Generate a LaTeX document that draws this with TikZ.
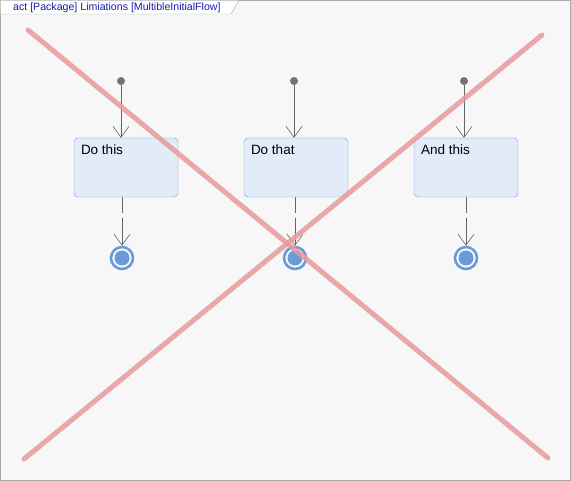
\documentclass[tikz,border=0pt]{standalone}
\usepackage{fontspec}
\setmainfont{Liberation Sans}
\usepackage{xcolor}
\usetikzlibrary{arrows.meta, positioning}
\definecolor{canvas}{HTML}{F7F7F7}
\definecolor{frameline}{HTML}{A8A8A8}
\definecolor{actfill}{HTML}{E1ECF8}
\definecolor{actline}{HTML}{6F9BD2}
\definecolor{finalblue}{HTML}{6A9BD8}
\definecolor{cross}{HTML}{E89A9C}
\definecolor{titleblue}{HTML}{1A1AB0}

\begin{document}
\begin{tikzpicture}[
  x=1pt, y=-1pt,
  action/.style={rectangle, draw=actline, fill=actfill, rounded corners=4pt, minimum width=104pt, minimum height=59pt, inner sep=0pt},
  initial/.style={circle, fill=black!55, minimum size=8pt, inner sep=0pt},
  final/.style={circle, draw=finalblue, line width=2.6pt, fill=canvas, minimum size=22pt, inner sep=0pt, path picture={\fill[finalblue] (path picture bounding box.center) circle (7.5pt);}},
  flow/.style={-{Straight Barb[length=11pt, width=16pt]}, black!60, line width=0.6pt},
  cut/.style={cross, line width=5pt, opacity=0.85, line cap=round}
]
  % frame and title tab
  \fill[canvas] (0,0) rectangle (571,481);
  \draw[frameline] (0.5,0.5) rectangle (570.5,480.5);
  \draw[frameline, fill=white] (0.5,0.5) -- (239,0.5) -- (231,14) -- (0.5,14);
  \node[anchor=west, text=titleblue, font=\fontsize{10.6}{12}\selectfont, inner sep=0pt] (title) at (13,7.5) {act [Package] Limiations [MultibleInitialFlow]};

  % actions
  \node[action] (dothis) at (126,167.5) {};
  \node[action] (dothat) at (296,167.5) {};
  \node[action] (andthis) at (466,167.5) {};
  \foreach \a/\t in {dothis/Do this, dothat/Do that, andthis/And this}
    \node[anchor=north west, font=\fontsize{13.5}{15}\selectfont, inner sep=0pt] (\a-text) at ([xshift=7pt, yshift=-7pt]\a.north west) {\t};

  % initial nodes
  \node[initial] (init1) at (121,81) {};
  \node[initial] (init2) at (294,81) {};
  \node[initial] (init3) at (464,81) {};

  % final nodes
  \node[final] (final1) at (122,258) {};
  \node[final] (final2) at (295,258) {};
  \node[final] (final3) at (466,258) {};

  \draw[flow] (init1) -- (init1 |- dothis.north);
  \draw[flow] (init2) -- (init2 |- dothat.north);
  \draw[flow] (init3) -- (init3 |- andthis.north);

  \draw[flow, dash pattern=on 16pt off 5pt on 60pt] (final1 |- dothis.south) -- (final1);
  \draw[flow, dash pattern=on 16pt off 5pt on 60pt] (final2 |- dothat.south) -- (final2);
  \draw[flow, dash pattern=on 16pt off 5pt on 60pt] (final3 |- andthis.south) -- (final3);

  % crossed out
  \coordinate (cutA) at (28,30);
  \coordinate (cutB) at (548,458);
  \coordinate (cutC) at (542,35);
  \coordinate (cutD) at (24,459);
  \draw[cut] (cutA) -- (cutB);
  \draw[cut] (cutC) -- (cutD);
\end{tikzpicture}
\end{document}
